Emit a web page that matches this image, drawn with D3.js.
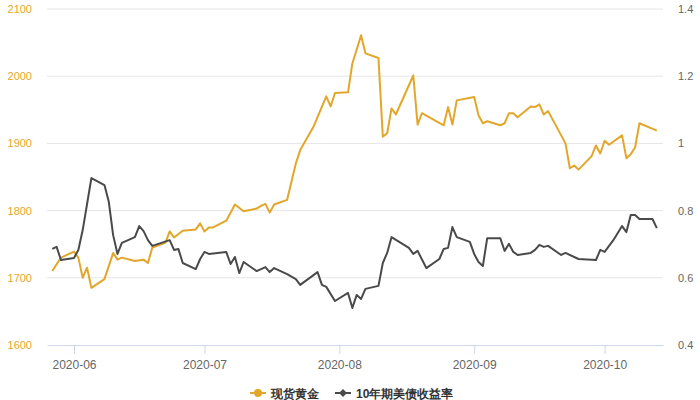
<!DOCTYPE html>
<html>
<head>
<meta charset="utf-8">
<script src="https://cdn.jsdelivr.net/npm/d3@7"></script>
<style>
  body { margin: 0; background: #fff; }
  text { font-family: "Liberation Sans", Arial, sans-serif; }
</style>
</head>
<body>
<div id="chart"></div>
<script>
// spot gold (left axis)
var goldDates = ["2020-05-27","2020-05-29","2020-06-01","2020-06-02","2020-06-03","2020-06-04","2020-06-05","2020-06-08",
  "2020-06-10","2020-06-11","2020-06-12","2020-06-15","2020-06-17","2020-06-18","2020-06-19","2020-06-22","2020-06-23",
  "2020-06-24","2020-06-26","2020-06-29","2020-06-30","2020-07-01","2020-07-02","2020-07-03","2020-07-06","2020-07-08",
  "2020-07-10","2020-07-13","2020-07-14","2020-07-15","2020-07-16","2020-07-17","2020-07-20","2020-07-22","2020-07-23",
  "2020-07-26","2020-07-29","2020-07-30","2020-07-31","2020-08-03","2020-08-04","2020-08-06","2020-08-07","2020-08-10",
  "2020-08-11","2020-08-12","2020-08-13","2020-08-14","2020-08-18","2020-08-19","2020-08-20","2020-08-25","2020-08-26",
  "2020-08-27","2020-08-28","2020-09-01","2020-09-02","2020-09-03","2020-09-04","2020-09-07","2020-09-08","2020-09-09",
  "2020-09-10","2020-09-11","2020-09-14","2020-09-15","2020-09-16","2020-09-17","2020-09-18","2020-09-22","2020-09-23",
  "2020-09-24","2020-09-25","2020-09-28","2020-09-29","2020-09-30","2020-10-01","2020-10-02","2020-10-05","2020-10-06",
  "2020-10-07","2020-10-08","2020-10-09","2020-10-13"];
var goldValues = [1710,1730,1739,1730,1700,1715,1685,1698,
  1737,1727,1730,1725,1727,1722,1745,1752,1769,
  1760,1770,1772,1781,1769,1775,1775,1785,1809,
  1799,1803,1807,1810,1797,1809,1816,1870,1890,
  1924,1970,1955,1975,1976,2019,2061,2034,2027,
  1910,1915,1952,1943,2001,1928,1945,1927,1954,
  1928,1964,1969,1942,1930,1933,1927,1930,1945,
  1945,1939,1955,1954,1958,1943,1948,1900,1863,
  1867,1861,1881,1897,1885,1904,1898,1912,1878,
  1884,1894,1930,1919];

// 10y treasury yield (right axis)
var yieldDates = ["2020-05-27","2020-05-28","2020-05-29","2020-06-01","2020-06-02","2020-06-03","2020-06-05","2020-06-08",
  "2020-06-09","2020-06-10","2020-06-11","2020-06-12","2020-06-15","2020-06-16","2020-06-17","2020-06-18","2020-06-19",
  "2020-06-23","2020-06-24","2020-06-25","2020-06-26","2020-06-29","2020-06-30","2020-07-01","2020-07-02","2020-07-06",
  "2020-07-07","2020-07-08","2020-07-09","2020-07-10","2020-07-13","2020-07-15","2020-07-16","2020-07-17","2020-07-20",
  "2020-07-22","2020-07-23","2020-07-27","2020-07-28","2020-07-29","2020-07-31","2020-08-03","2020-08-04","2020-08-05",
  "2020-08-06","2020-08-07","2020-08-10","2020-08-11","2020-08-12","2020-08-13","2020-08-17","2020-08-18","2020-08-19",
  "2020-08-21","2020-08-24","2020-08-25","2020-08-26","2020-08-27","2020-08-28","2020-08-31","2020-09-01","2020-09-02",
  "2020-09-03","2020-09-04","2020-09-07","2020-09-08","2020-09-09","2020-09-10","2020-09-11","2020-09-14","2020-09-15",
  "2020-09-16","2020-09-17","2020-09-18","2020-09-21","2020-09-22","2020-09-25","2020-09-29","2020-09-30","2020-10-01",
  "2020-10-03","2020-10-05","2020-10-06","2020-10-07","2020-10-08","2020-10-09","2020-10-12","2020-10-13"];
var yieldValues = [0.686,0.692,0.653,0.659,0.683,0.742,0.897,0.876,
  0.826,0.727,0.671,0.704,0.721,0.754,0.739,0.712,0.695,
  0.712,0.683,0.686,0.644,0.626,0.656,0.677,0.671,0.677,
  0.641,0.662,0.614,0.647,0.620,0.632,0.617,0.629,0.611,
  0.596,0.579,0.617,0.579,0.573,0.531,0.555,0.510,0.549,
  0.537,0.567,0.576,0.644,0.674,0.721,0.689,0.671,0.680,
  0.629,0.656,0.686,0.689,0.751,0.721,0.707,0.671,0.647,
  0.635,0.718,0.718,0.680,0.701,0.677,0.668,0.674,0.683,
  0.698,0.692,0.695,0.668,0.674,0.656,0.653,0.683,0.677,
  0.712,0.754,0.736,0.787,0.787,0.775,0.775,0.748];

// axis ticks and legend labels
var leftTicks = [1600, 1700, 1800, 1900, 2000, 2100];
var rightTicks = [0.4, 0.6, 0.8, 1, 1.2, 1.4];
var seriesNames = ["现货黄金", "10年期美债收益率"];

var goldColor = "#e2a72a",
    yieldColor = "#4a4a4a";

var margin = {top: 9, right: 37, bottom: 55, left: 47},
    width = 700 - margin.left - margin.right,
    height = 400 - margin.top - margin.bottom;

var parse = d3.timeParse("%Y-%m-%d");

var svg = d3.select("#chart")
  .append("svg")
    .attr("width", 700)
    .attr("height", 400)
  .append("g")
    .attr("transform", "translate(" + margin.left + "," + margin.top + ")");

// time axis, padded a little past the first and last point
var x = d3.scaleTime()
    .domain([new Date(2020, 4, 25, 19), new Date(2020, 9, 14, 10)])
    .range([0, width]);

var yLeft = d3.scaleLinear().domain([1600, 2100]).range([height, 0]);
var yRight = d3.scaleLinear().domain([0.4, 1.4]).range([height, 0]);

// gridlines
svg.append("g")
  .selectAll("line")
  .data(leftTicks.slice(1))
  .enter().append("line")
    .attr("x1", 0)
    .attr("x2", width)
    .attr("y1", function(d) { return yLeft(d); })
    .attr("y2", function(d) { return yLeft(d); })
    .attr("stroke", "#e6e6e6")
    .attr("stroke-width", 1);

// left axis
var leftAxis = svg.append("g")
  .call(d3.axisLeft(yLeft).tickValues(leftTicks).tickSize(0).tickPadding(15)
    .tickFormat(d3.format("d")));
leftAxis.select(".domain").remove();
leftAxis.selectAll("text")
  .attr("fill", goldColor)
  .style("font-size", "11px");

// right axis
var rightAxis = svg.append("g")
  .attr("transform", "translate(" + width + ",0)")
  .call(d3.axisRight(yRight).tickValues(rightTicks).tickSize(0).tickPadding(15)
    .tickFormat(d3.format("~g")));
rightAxis.select(".domain").remove();
rightAxis.selectAll("text")
  .attr("fill", "#666")
  .style("font-size", "11px");

// bottom axis
var bottomAxis = svg.append("g")
  .attr("transform", "translate(0," + height + ")")
  .call(d3.axisBottom(x).ticks(d3.timeMonth.every(1)).tickFormat(d3.timeFormat("%Y-%m"))
    .tickSizeOuter(0).tickSizeInner(9).tickPadding(6));
bottomAxis.select(".domain").attr("stroke", "#ccd6eb");
bottomAxis.selectAll(".tick line").attr("stroke", "#ccd6eb");
bottomAxis.selectAll("text")
  .attr("fill", "#666")
  .style("font-size", "12px");

// lines
var goldData = goldDates.map(function(d, i) { return {date: parse(d), value: goldValues[i]}; });
var yieldData = yieldDates.map(function(d, i) { return {date: parse(d), value: yieldValues[i]}; });

svg.append("path")
  .datum(goldData)
  .attr("fill", "none")
  .attr("stroke", goldColor)
  .attr("stroke-width", 2)
  .attr("stroke-linejoin", "round")
  .attr("d", d3.line()
    .x(function(d) { return x(d.date); })
    .y(function(d) { return yLeft(d.value); }));

svg.append("path")
  .datum(yieldData)
  .attr("fill", "none")
  .attr("stroke", yieldColor)
  .attr("stroke-width", 2)
  .attr("stroke-linejoin", "round")
  .attr("d", d3.line()
    .x(function(d) { return x(d.date); })
    .y(function(d) { return yRight(d.value); }));

// legend
var legend = d3.select("svg").append("g")
  .attr("transform", "translate(0,393)");

var g1 = legend.append("g").attr("transform", "translate(250,0)");
g1.append("line").attr("x1", 0).attr("x2", 16).attr("stroke", goldColor).attr("stroke-width", 2);
g1.append("circle").attr("cx", 8).attr("r", 4).attr("fill", goldColor);
g1.append("text").attr("x", 21).attr("y", 4.5)
  .attr("fill", "#333").style("font-size", "12px").style("font-weight", "bold")
  .text(seriesNames[0]);

var g2 = legend.append("g").attr("transform", "translate(335,0)");
g2.append("line").attr("x1", 0).attr("x2", 16).attr("stroke", yieldColor).attr("stroke-width", 2);
g2.append("path").attr("d", "M8,-4L12,0L8,4L4,0Z").attr("fill", yieldColor);
g2.append("text").attr("x", 21).attr("y", 4.5)
  .attr("fill", "#333").style("font-size", "12px").style("font-weight", "bold")
  .text(seriesNames[1]);
</script>
</body>
</html>
